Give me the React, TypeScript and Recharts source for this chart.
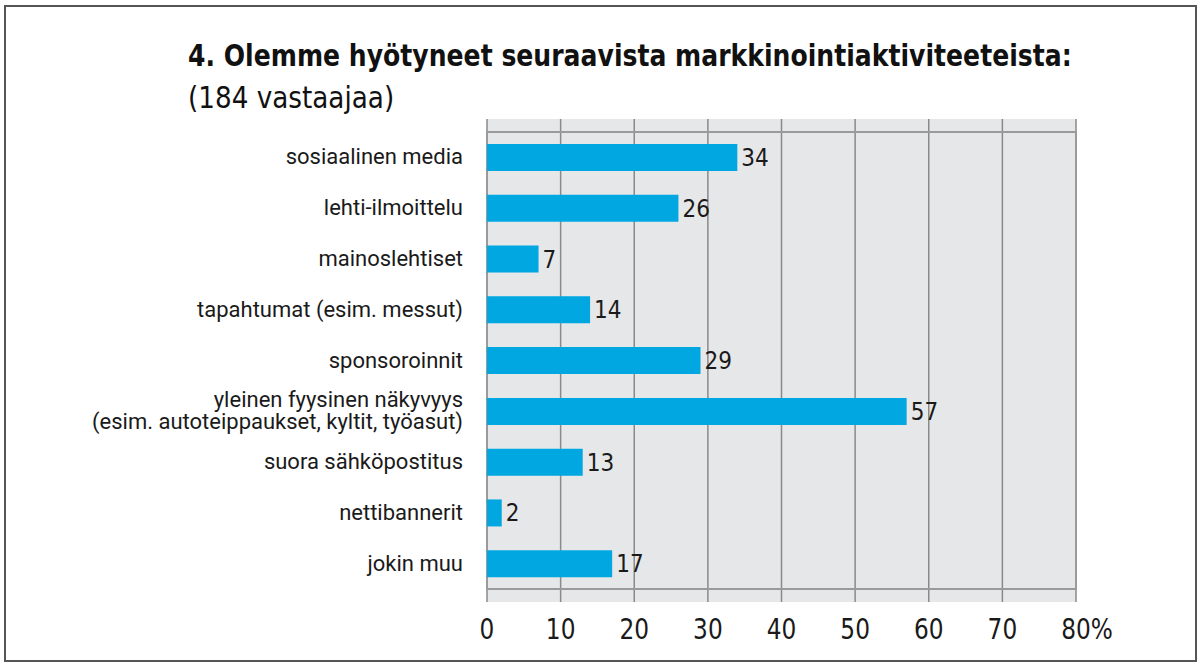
import React from "react";
import {
  BarChart,
  Bar,
  XAxis,
  YAxis,
  CartesianGrid,
  LabelList,
  ReferenceArea,
} from "recharts";

const categories = [
  "sosiaalinen media",
  "lehti-ilmoittelu",
  "mainoslehtiset",
  "tapahtumat (esim. messut)",
  "sponsoroinnit",
  "yleinen fyysinen näkyvyys\n(esim. autoteippaukset, kyltit, työasut)",
  "suora sähköpostitus",
  "nettibannerit",
  "jokin muu",
];
const values = [34, 26, 7, 14, 29, 57, 13, 2, 17];
const xTicks = [0, 10, 20, 30, 40, 50, 60, 70, 80];

const FONT = "'DejaVu Sans', sans-serif";
const COND = "'DejaVu Sans Condensed', 'DejaVu Sans', sans-serif";

const CategoryTick = ({ y, payload }: any) => {
  const lines = String(payload.value).split("\n");
  const lh = 22;
  const start = -((lines.length - 1) * lh) / 2;
  return (
    <text
      x={463}
      y={y}
      textAnchor="end"
      fontFamily="Roboto, sans-serif"
      fontSize={22}
      fill="#1a1a1a"
    >
      {lines.map((l, i) => (
        <tspan key={i} x={463} dy={i === 0 ? start + 7 : lh}>
          {l}
        </tspan>
      ))}
    </text>
  );
};

// condensed look: squeeze DejaVu horizontally
const ValueTick = ({ x, y, payload }: any) => {
  const last = payload.value === 80;
  return (
    <g transform={`translate(${x},${y + 29}) scale(0.83,1)`}>
      <text
        x={last ? -17.8 : 0}
        y={0}
        textAnchor={last ? "start" : "middle"}
        fontFamily={FONT}
        fontSize={28}
        fill="#1a1a1a"
      >
        {last ? "80%" : payload.value}
      </text>
    </g>
  );
};

export default function App() {
  const data = categories.map((name, i) => ({ name, value: values[i] }));
  return (
    <div
      style={{
        position: "absolute",
        left: 0,
        top: 0,
        width: 1204,
        height: 669,
        background: "#fff",
      }}
    >
      <div
        style={{
          position: "absolute",
          left: 4,
          top: 5,
          width: 1189,
          height: 653,
          border: "2px solid #555",
        }}
      />
      <div
        style={{
          position: "absolute",
          left: 188,
          top: 37,
          fontFamily: FONT,
          fontWeight: "bold",
          fontSize: 31,
          color: "#111",
          whiteSpace: "nowrap",
          transform: "scaleX(0.81)",
          transformOrigin: "left top",
        }}
      >
        4. Olemme hyötyneet seuraavista markkinointiaktiviteeteista:
      </div>
      <div
        style={{
          position: "absolute",
          left: 188,
          top: 80,
          fontFamily: FONT,
          fontSize: 30,
          color: "#111",
          whiteSpace: "nowrap",
          transform: "scaleX(0.875)",
          transformOrigin: "left top",
        }}
      >
        (184 vastaajaa)
      </div>
      <div style={{ position: "absolute", left: 0, top: 0 }}>
        <BarChart
          width={1204}
          height={669}
          data={data}
          layout="vertical"
          margin={{ top: 119, right: 128, bottom: 0, left: 0 }}
        >
          <CartesianGrid
            horizontal={false}
            stroke="#8a8a8a"
            strokeWidth={1.5}
            fill="#e6e7e9"
            fillOpacity={1}
          />
          <XAxis
            type="number"
            domain={[0, 80]}
            ticks={xTicks}
            height={67}
            axisLine={false}
            tickLine={false}
            tick={<ValueTick />}
          />
          <YAxis
            type="category"
            dataKey="name"
            width={487}
            axisLine={false}
            tickLine={false}
            padding={{ top: 13, bottom: 13 }}
            interval={0}
            tick={<CategoryTick />}
          />
          <Bar
            dataKey="value"
            fill="#00a7e1"
            barSize={27}
            isAnimationActive={false}
          >
            <LabelList
              dataKey="value"
              position="right"
              offset={4}
              fontFamily={COND}
              fontSize={24}
              fill="#1a1a1a"
            />
          </Bar>
          <ReferenceArea
            x1={0}
            x2={80}
            fill="none"
            stroke="#9a9a9a"
            strokeWidth={2}
            ifOverflow="visible"
          />
        </BarChart>
      </div>
    </div>
  );
}
